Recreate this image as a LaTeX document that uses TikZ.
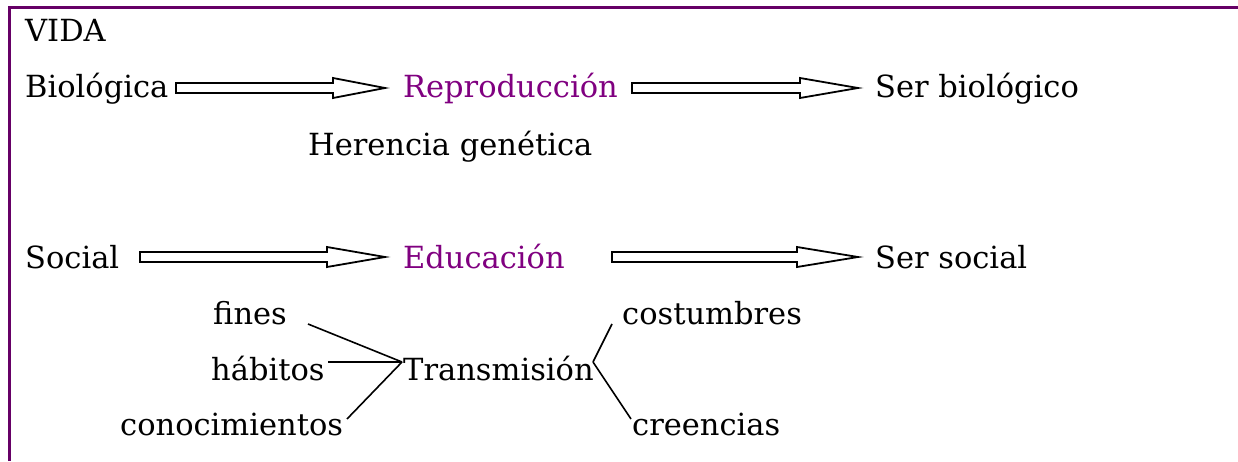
\documentclass[tikz,border=0pt]{standalone}
\usepackage{fontspec}
\setmainfont{DejaVu Serif}
\usetikzlibrary{calc}
\definecolor{framepurple}{RGB}{102,0,102}
\definecolor{textpurple}{RGB}{128,0,128}
\newcommand\fatarr[3]{%
  \draw[fatline] let \p1=(#1), \p2=(#2) in
    (\x1,\y1+5) -- (\x2-#3,\y1+5) -- (\x2-#3,\y1+10) -- (\x2,\y1)
    -- (\x2-#3,\y1-10) -- (\x2-#3,\y1-5) -- (\x1,\y1-5) -- cycle;}
\begin{document}
\begin{tikzpicture}[x=1pt,y=1pt,
  lbl/.style={anchor=base west,inner sep=0pt,font=\fontsize{30.5}{36}\selectfont},
  key/.style={lbl,text=textpurple},
  fatline/.style={draw=black,line width=1.8pt,fill=white,line join=miter},
  thin/.style={draw=black,line width=1.6pt}]
\useasboundingbox (0,0) rectangle (1238,461);
\draw[framepurple,line width=2.2pt] (9.5,0) -- (9.5,453.5) -- (1238,453.5);
% texts
\node[lbl] (vida) at (25,419) {VIDA};
\node[lbl] (bio) at (25,363) {Biológica};
\node[key] (rep) at (403,363) {Reproducción};
\node[lbl] (serbio) at (875,363) {Ser biológico};
\node[lbl] (her) at (308,305) {Herencia genética};
\node[lbl] (soc) at (25,193) {Social};
\node[key] (edu) at (403,193) {Educación};
\node[lbl] (sersoc) at (875,193) {Ser social};
\node[lbl] (fines) at (213,137) {fines};
\node[lbl] (cost) at (622,137) {costumbres};
\node[lbl] (hab) at (211,81) {hábitos};
\node[lbl] (trans) at (403,81) {Transmisión};
\node[lbl] (conoc) at (120,26) {conocimientos};
\node[lbl] (cree) at (632,26) {creencias};
% arrow end points
\coordinate (a1s) at (176,373);
\coordinate (a1e) at (385,373);
\coordinate (a2s) at (632,373);
\coordinate (a2e) at (858,373);
\coordinate (a3s) at (140,204);
\coordinate (a3e) at (385,204);
\coordinate (a4s) at (612,204);
\coordinate (a4e) at (858,204);
\fatarr{a1s}{a1e}{52}
\fatarr{a2s}{a2e}{58}
\fatarr{a3s}{a3e}{58}
\fatarr{a4s}{a4e}{61}
% transmission lines
\coordinate (tl) at (402,99);
\coordinate (tr) at (593,99);
\coordinate (fe) at (308,137);
\coordinate (he) at (328,99);
\coordinate (ce) at (347,42);
\coordinate (ue) at (612,137);
\coordinate (re) at (631,42);
\draw[thin] (fe) -- (tl);
\draw[thin] (he) -- (tl);
\draw[thin] (ce) -- (tl);
\draw[thin] (ue) -- (tr);
\draw[thin] (re) -- (tr);
\end{tikzpicture}
\end{document}
